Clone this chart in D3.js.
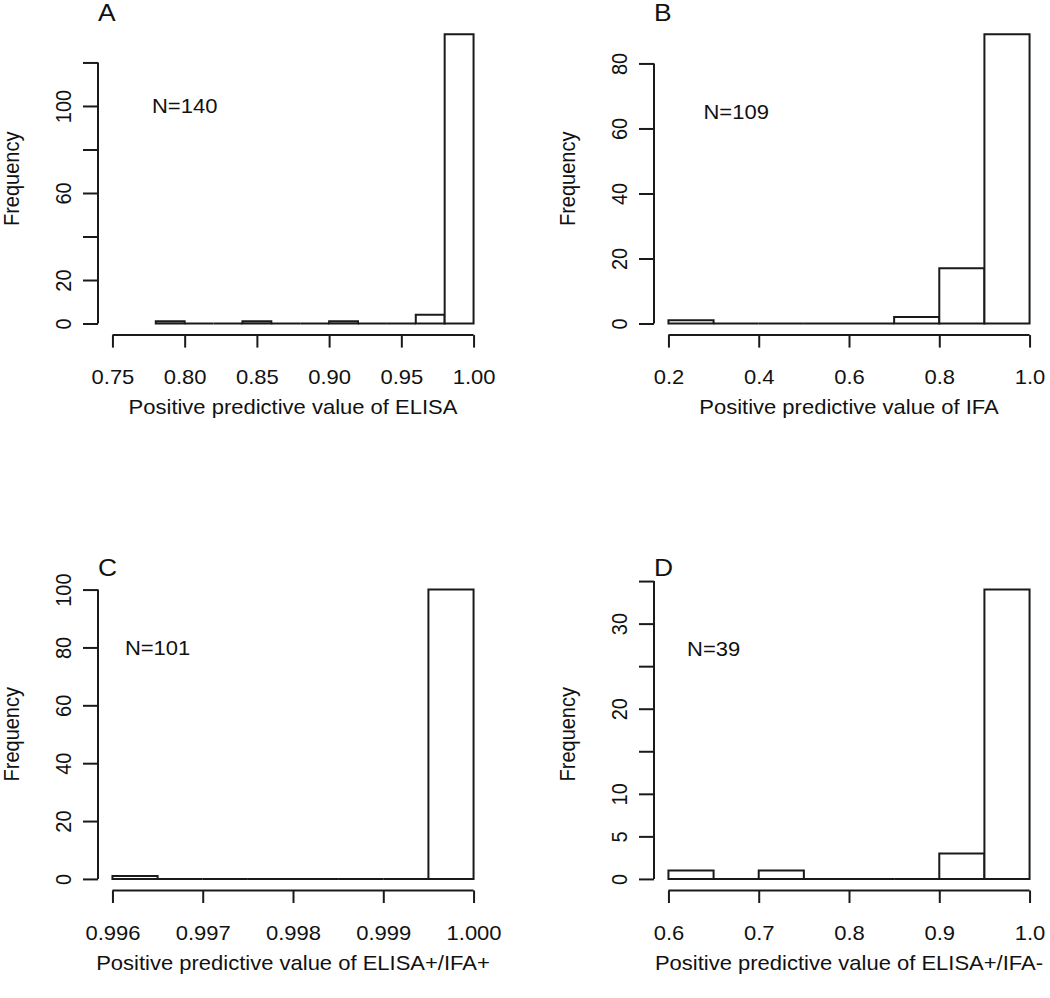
<!DOCTYPE html>
<html>
<head>
<meta charset="utf-8">
<script src="https://cdn.jsdelivr.net/npm/d3@7"></script>
<style>
  html, body { margin: 0; padding: 0; background: #fff; }
  svg { display: block; }
  text { font-family: "Liberation Sans", Arial, Helvetica, sans-serif; fill: #111; }
</style>
</head>
<body>
<svg id="chart" width="1050" height="998"></svg>
<script>
// ---------- data ----------
const panelLetters = ["A", "B", "C", "D"];
const xTitles = [
  "Positive predictive value of ELISA",
  "Positive predictive value of IFA",
  "Positive predictive value of ELISA+/IFA+",
  "Positive predictive value of ELISA+/IFA-"
];
const nLabels = ["N=140", "N=109", "N=101", "N=39"];
const nLabelPos = [[0.80, 100], [0.35, 65], [0.9965, 80], [0.65, 27]];

const breaksA = [0.78, 0.80, 0.82, 0.84, 0.86, 0.88, 0.90, 0.92, 0.94, 0.96, 0.98, 1.00];
const countsA = [1, 0, 0, 1, 0, 0, 1, 0, 0, 4, 133];
const breaksB = [0.2, 0.3, 0.4, 0.5, 0.6, 0.7, 0.8, 0.9, 1.0];
const countsB = [1, 0, 0, 0, 0, 2, 17, 89];
const breaksC = [0.996, 0.9965, 0.997, 0.9975, 0.998, 0.9985, 0.999, 0.9995, 1.000];
const countsC = [1, 0, 0, 0, 0, 0, 0, 100];
const breaksD = [0.6, 0.65, 0.7, 0.75, 0.8, 0.85, 0.9, 0.95, 1.0];
const countsD = [1, 0, 1, 0, 0, 0, 3, 34];

const xLimits = [[0.75, 1.0], [0.2, 1.0], [0.996, 1.0], [0.6, 1.0]];
const xTicksA = [0.75, 0.80, 0.85, 0.90, 0.95, 1.00];
const xTicksB = [0.2, 0.4, 0.6, 0.8, 1.0];
const xTicksC = [0.996, 0.997, 0.998, 0.999, 1.000];
const xTicksD = [0.6, 0.7, 0.8, 0.9, 1.0];
const xTickLabelsA = ["0.75", "0.80", "0.85", "0.90", "0.95", "1.00"];
const xTickLabelsB = ["0.2", "0.4", "0.6", "0.8", "1.0"];
const xTickLabelsC = ["0.996", "0.997", "0.998", "0.999", "1.000"];
const xTickLabelsD = ["0.6", "0.7", "0.8", "0.9", "1.0"];

const yTicksA = [0, 20, 40, 60, 80, 100, 120];
const yTickLabelsA = ["0", "20", "", "60", "", "100", ""];
const yTicksB = [0, 20, 40, 60, 80];
const yTickLabelsB = ["0", "20", "40", "60", "80"];
const yTicksC = [0, 20, 40, 60, 80, 100];
const yTickLabelsC = ["0", "20", "40", "60", "80", "100"];
const yTicksD = [0, 5, 10, 15, 20, 25, 30, 35];
const yTickLabelsD = ["0", "5", "10", "", "20", "", "30", ""];

const yTitle = "Frequency";

// ---------- layout ----------
const panels = [
  { breaks: breaksA, counts: countsA, xTicks: xTicksA, xLabels: xTickLabelsA, yTicks: yTicksA, yLabels: yTickLabelsA, left: 98,  top: 22.6 },
  { breaks: breaksB, counts: countsB, xTicks: xTicksB, xLabels: xTickLabelsB, yTicks: yTicksB, yLabels: yTickLabelsB, left: 654, top: 22.6 },
  { breaks: breaksC, counts: countsC, xTicks: xTicksC, xLabels: xTickLabelsC, yTicks: yTicksC, yLabels: yTickLabelsC, left: 98,  top: 578 },
  { breaks: breaksD, counts: countsD, xTicks: xTicksD, xLabels: xTickLabelsD, yTicks: yTicksD, yLabels: yTickLabelsD, left: 654, top: 578 }
];
const PW = 390, PH = 312.5;
const SX = 1.1;         // horizontal text stretch of the original
const FS = 20;          // font size
const INK = "#1a1a1a";
const LW = 2;

const svg = d3.select("#chart");

panels.forEach((p, i) => {
  const xl = xLimits[i];
  const span = xl[1] - xl[0];
  const x = d3.scaleLinear().domain([xl[0] - 0.04 * span, xl[1] + 0.04 * span]).range([p.left, p.left + PW]);
  const ymax = d3.max(p.counts);
  const y = d3.scaleLinear().domain([-0.04 * ymax, 1.04 * ymax]).range([p.top + PH, p.top]);
  const bottom = p.top + PH;
  const g = svg.append("g");

  // bars
  const bins = p.counts.map((c, k) => ({ x0: p.breaks[k], x1: p.breaks[k + 1], c }));
  g.selectAll("path.bar").data(bins).join("path")
    .attr("class", "bar")
    .attr("d", d => {
      const path = d3.path();
      path.moveTo(x(d.x0), y(0));
      path.lineTo(x(d.x0), y(d.c));
      path.lineTo(x(d.x1), y(d.c));
      path.lineTo(x(d.x1), y(0));
      path.closePath();
      return path.toString();
    })
    .attr("fill", "#fff")
    .attr("stroke", INK)
    .attr("stroke-width", LW)
    .attr("stroke-linejoin", "miter");

  // x axis
  const xa = g.append("g").attr("transform", `translate(0,${bottom})`)
    .call(d3.axisBottom(x).tickValues(p.xTicks).tickSize(12.5).tickSizeOuter(0)
      .tickFormat((d, k) => p.xLabels[k]));
  xa.select(".domain").remove();
  xa.append("line")
    .attr("x1", x(p.xTicks[0])).attr("x2", x(p.xTicks[p.xTicks.length - 1]))
    .attr("y1", 0).attr("y2", 0);
  xa.selectAll("line").attr("stroke", INK).attr("stroke-width", LW);
  xa.selectAll(".tick text")
    .attr("y", null).attr("dy", "0.36em")
    .attr("transform", `translate(0,42) scale(${SX},1)`)
    .style("font-size", FS + "px").attr("fill", "#111")
    .attr("font-family", null);

  // y axis
  const ya = g.append("g").attr("transform", `translate(${p.left},0)`)
    .call(d3.axisLeft(y).tickValues(p.yTicks).tickSize(15).tickSizeOuter(0)
      .tickFormat((d, k) => p.yLabels[k]));
  ya.select(".domain").remove();
  ya.append("line")
    .attr("x1", 0).attr("x2", 0)
    .attr("y1", y(p.yTicks[0])).attr("y2", y(p.yTicks[p.yTicks.length - 1]));
  ya.selectAll("line").attr("stroke", INK).attr("stroke-width", LW);
  ya.selectAll(".tick text")
    .attr("x", null).attr("dy", "0.36em")
    .attr("text-anchor", "middle")
    .attr("transform", `translate(-35,0) scale(${SX},1) rotate(-90)`)
    .style("font-size", FS + "px").attr("fill", "#111")
    .attr("font-family", null);

  // x title
  g.append("text")
    .attr("transform", `translate(${p.left + PW / 2},${bottom + 72}) scale(${SX},1)`)
    .attr("text-anchor", "middle").attr("dy", "0.36em")
    .style("font-size", FS + "px")
    .text(xTitles[i]);

  // y title
  g.append("text")
    .attr("transform", `translate(${p.left - 87},${p.top + PH / 2}) scale(${SX},1) rotate(-90)`)
    .attr("text-anchor", "middle").attr("dy", "0.36em")
    .style("font-size", FS + "px")
    .text(yTitle);

  // panel letter
  g.append("text")
    .attr("transform", `translate(${p.left},${p.top - 2}) scale(${SX},1)`)
    .attr("text-anchor", "start")
    .style("font-size", (FS + 4) + "px")
    .text(panelLetters[i]);

  // N label
  g.append("text")
    .attr("transform", `translate(${x(nLabelPos[i][0])},${y(nLabelPos[i][1])}) scale(${SX},1)`)
    .attr("text-anchor", "middle").attr("dy", "0.36em")
    .style("font-size", FS + "px")
    .text(nLabels[i]);
});
</script>
</body>
</html>
